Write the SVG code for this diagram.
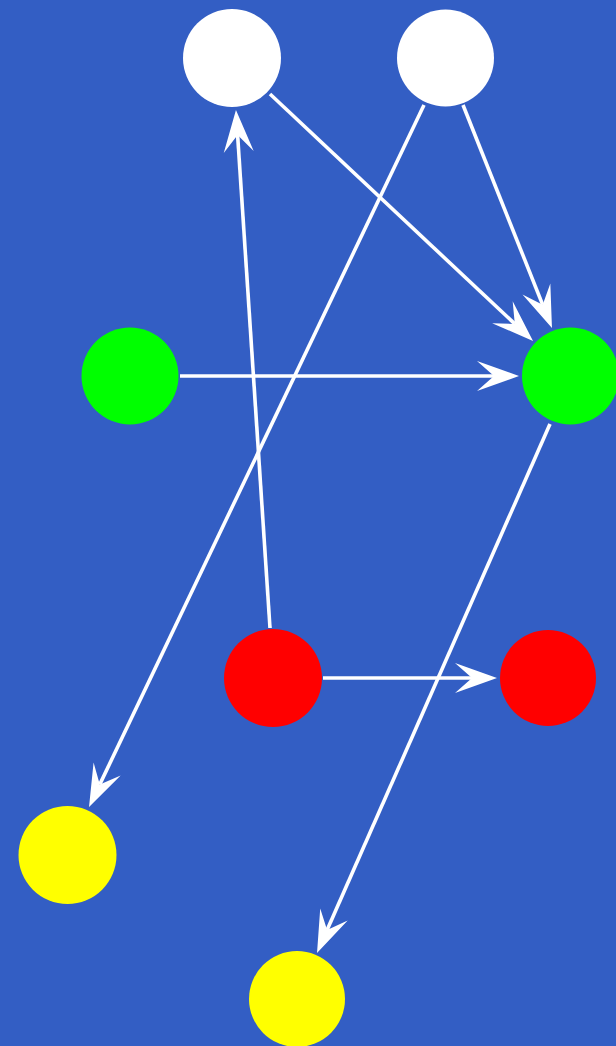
<svg xmlns="http://www.w3.org/2000/svg" width="616" height="1046" viewBox="0 0 616 1046">
<style>
.edge{stroke:#ffffff;stroke-width:3.6;fill:none;marker-end:url(#vee)}
.w{fill:#ffffff}.g{fill:#00ff00}.r{fill:#ff0000}.y{fill:#ffff00}
</style>
<defs>
<marker id="vee" markerUnits="userSpaceOnUse" viewBox="-18 -16 44 32" refX="0" refY="0" markerWidth="44" markerHeight="32" orient="auto" overflow="visible">
<path d="M25,0 L-17,-15 L0,0 L-17,15 Z" fill="#ffffff"/>
</marker>
</defs>
<rect width="616" height="1046" fill="#335ec4"/>
<g id="connectors">
<path class="edge" d="M270,94 L514.8,323.9"/>
<path class="edge" d="M463,105 L542.7,304.8"/>
<path class="edge" d="M424,105 L99.8,784.4"/>
<path class="edge" d="M180,376 L494,376"/>
<path class="edge" d="M270,628 L237.6,135"/>
<path class="edge" d="M323,678 L472,678"/>
<path class="edge" d="M550,424 L327.1,930.1"/>
</g>
<g id="w1"><circle class="w" cx="232" cy="58" r="49"/></g>
<g id="w2"><circle class="w" cx="445.5" cy="58" r="48.5"/></g>
<g id="g1"><circle class="g" cx="130" cy="376" r="48.5"/></g>
<g id="g2"><circle class="g" cx="570.5" cy="376" r="48.5"/></g>
<g id="r1"><circle class="r" cx="273" cy="678" r="49"/></g>
<g id="r2"><circle class="r" cx="548" cy="678" r="48"/></g>
<g id="y1"><circle class="y" cx="67.5" cy="855" r="49"/></g>
<g id="y2"><circle class="y" cx="297" cy="999" r="48"/></g>
</svg>
